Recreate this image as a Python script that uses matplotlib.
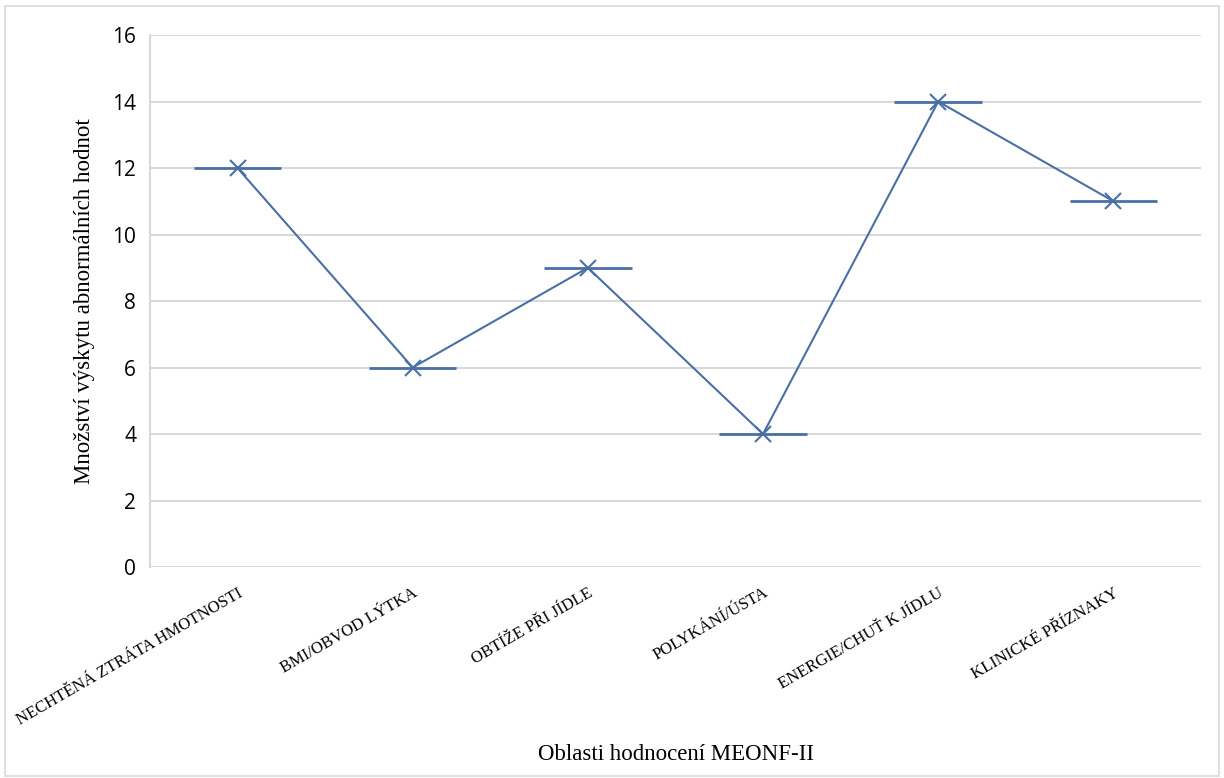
import matplotlib
matplotlib.use("Agg")
import matplotlib.pyplot as plt
from matplotlib.patches import Rectangle

categories = [
    "NECHTĚNÁ ZTRÁTA HMOTNOSTI",
    "BMI/OBVOD LÝTKA",
    "OBTÍŽE PŘI JÍDLE",
    "POLYKÁNÍ/ÚSTA",
    "ENERGIE/CHUŤ K JÍDLU",
    "KLINICKÉ PŘÍZNAKY",
]
counts = [12, 6, 9, 4, 14, 11]
y_ticks = [0, 2, 4, 6, 8, 10, 12, 14, 16]

line_color = "#4A6FA5"
grid_color = "#D9D9D9"
serif = ["Liberation Serif", "DejaVu Serif"]
sans = ["Open Sans", "DejaVu Sans"]

fig = plt.figure(figsize=(12.24, 7.78), dpi=100)
ax = fig.add_axes([0.1225, 0.2712, 0.8587, 0.6838])

x = list(range(len(categories)))
ax.plot(x, counts, color=line_color, linewidth=1.5, zorder=3)
ax.plot(x, counts, linestyle="none", marker="x", markersize=12,
        markeredgewidth=1.5, color=line_color, zorder=4)
# horizontal dash at each point, half a category wide
for xi, yi in zip(x, counts):
    ax.hlines(yi, xi - 0.25, xi + 0.25, color=line_color, linewidth=2, zorder=4)

ax.set_xlim(-0.5, len(categories) - 0.5)
ax.set_ylim(0, 16)
ax.set_yticks(y_ticks)
ax.set_yticklabels([str(v) for v in y_ticks], fontfamily=sans, fontsize=15)
ax.yaxis.grid(True, color=grid_color, linewidth=1.5)
ax.set_axisbelow(True)
ax.tick_params(axis="y", length=0, pad=10)
ax.tick_params(axis="x", length=0, pad=13)

ax.set_xticks(x)
ax.set_xticklabels(categories, rotation=30, ha="right", rotation_mode="anchor",
                   fontfamily=serif, fontsize=12)

for side in ("top", "right", "bottom"):
    ax.spines[side].set_visible(False)
ax.spines["left"].set_color(grid_color)
ax.spines["left"].set_linewidth(1.5)

ax.set_ylabel("Množství výskytu abnormálních hodnot", fontfamily=serif,
              fontsize=16.5, labelpad=12)
fig.text(0.552, 0.03, "Oblasti hodnocení MEONF-II", ha="center", va="center",
         fontfamily=serif, fontsize=16.5)

# outer chart frame
fig.patches.append(Rectangle((0.004, 0.003), 0.992, 0.989, transform=fig.transFigure,
                             fill=False, edgecolor=grid_color, linewidth=1.2))

fig.savefig("out.png", dpi=100)
